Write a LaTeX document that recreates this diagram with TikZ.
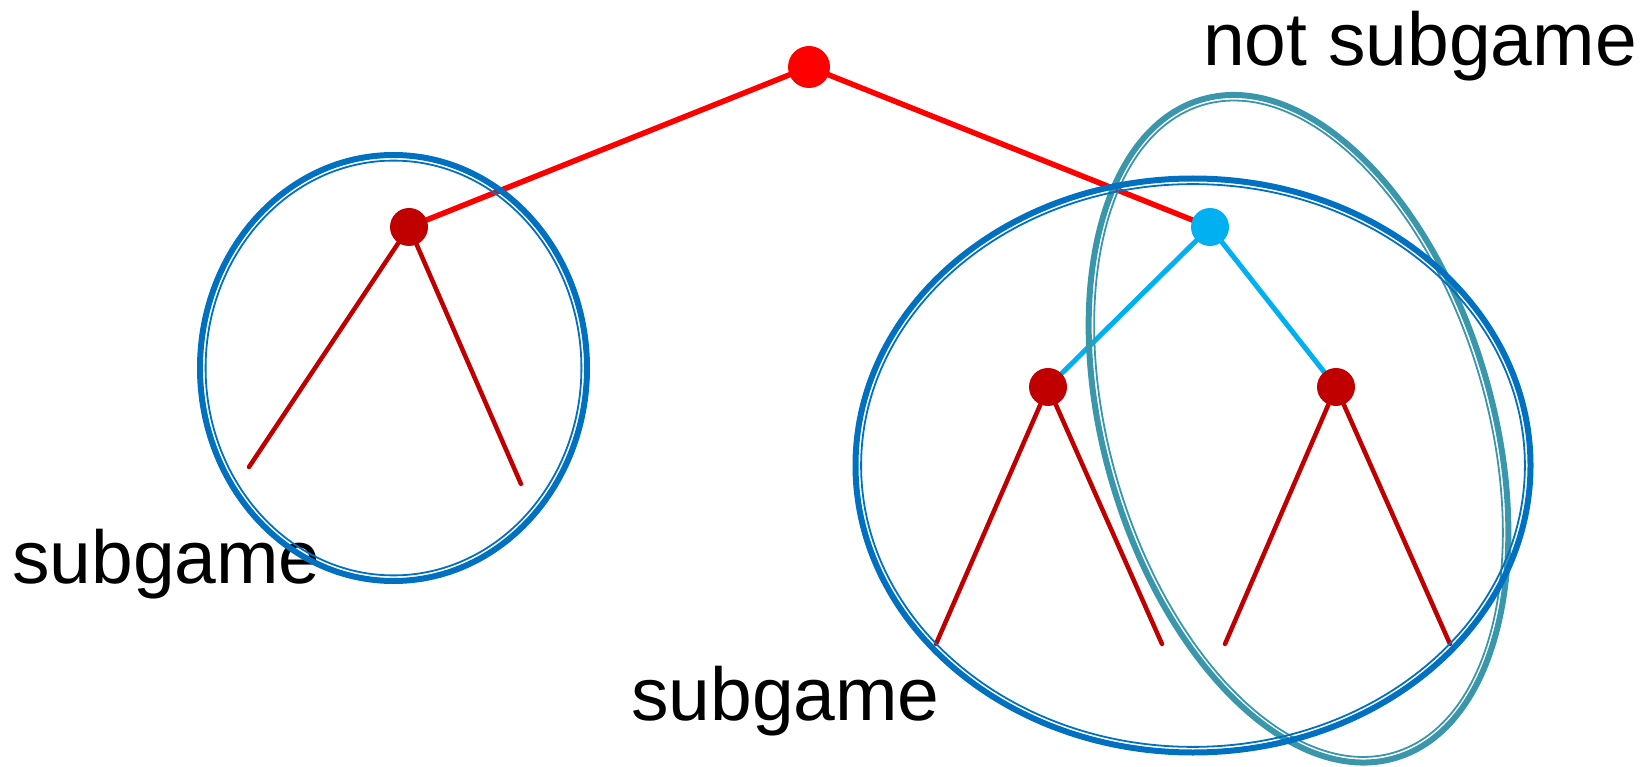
\documentclass[tikz,border=0pt]{standalone}
\usepackage{fontspec}
\setmainfont{Liberation Sans}
\usetikzlibrary{backgrounds}
\definecolor{rootred}{RGB}{255,0,0}
\definecolor{movered}{RGB}{192,0,0}
\definecolor{skyblue}{RGB}{0,176,240}
\definecolor{ringblue}{RGB}{0,112,192}
\definecolor{ringteal}{RGB}{58,150,170}
\begin{document}
\begin{tikzpicture}[x=1pt,y=1pt,
  dot/.style={circle,inner sep=0pt,minimum size=#1},
  rootedge/.style={draw=rootred,line width=5.5pt},
  moveedge/.style={draw=movered,line width=4.5pt,line cap=round},
  infoedge/.style={draw=skyblue,line width=5pt},
  caption/.style={inner sep=0pt,anchor=base west,font=\fontsize{75}{80}\selectfont},
  ringouter/.style={line width=6pt},
  ringinner/.style={line width=1.8pt}]
\useasboundingbox (0,0) rectangle (1647,-767);

% labels
\node[caption] (capA) at (12,-583) {subgame};
\node[caption] (capB) at (631,-720) {subgame};
\node[caption] (capC) at (1203,-66) {not subgame};

% decision nodes
\node[dot=42pt,fill=rootred] (root) at (809,-67) {};
\node[dot=38pt,fill=movered] (left) at (409,-227) {};
\node[dot=38pt,fill=skyblue] (mid) at (1210,-227) {};
\node[dot=38pt,fill=movered] (ma) at (1048,-387) {};
\node[dot=38pt,fill=movered] (mb) at (1336,-387) {};

% terminal ends
\coordinate (l1) at (249,-467);
\coordinate (l2) at (521,-484);
\coordinate (a1) at (936,-644);
\coordinate (a2) at (1162,-644);
\coordinate (b1) at (1225,-644);
\coordinate (b2) at (1450,-644);

% branches
\begin{scope}[on background layer]
  \draw[rootedge] (root.center) -- (left.center);
  \draw[rootedge] (root.center) -- (mid.center);
  \draw[moveedge] (left.center) -- (l1);
  \draw[moveedge] (left.center) -- (l2);
  \draw[infoedge] (mid.center) -- (ma.center);
  \draw[infoedge] (mid.center) -- (mb.center);
  \draw[moveedge] (ma.center) -- (a1);
  \draw[moveedge] (ma.center) -- (a2);
  \draw[moveedge] (mb.center) -- (b1);
  \draw[moveedge] (mb.center) -- (b2);
\end{scope}

% tilted ring (not a subgame)
\begin{scope}[shift={(1298.5,-428.75)},rotate=16.4]
  \draw[ringteal,ringouter] (0,0) ellipse [x radius=194,y radius=343.2];
  \draw[ringteal,ringinner] (0,0) ellipse [x radius=188.4,y radius=337.6];
\end{scope}

% subgame rings
\draw[ringblue,ringouter] (393.5,-368) ellipse [x radius=193.5,y radius=213];
\draw[ringblue,ringinner] (393.5,-368) ellipse [x radius=187.9,y radius=207.4];
\draw[ringblue,ringouter] (1193,-465.5) ellipse [x radius=337.5,y radius=287];
\draw[ringblue,ringinner] (1193,-465.5) ellipse [x radius=331.9,y radius=281.4];
\end{tikzpicture}
\end{document}
